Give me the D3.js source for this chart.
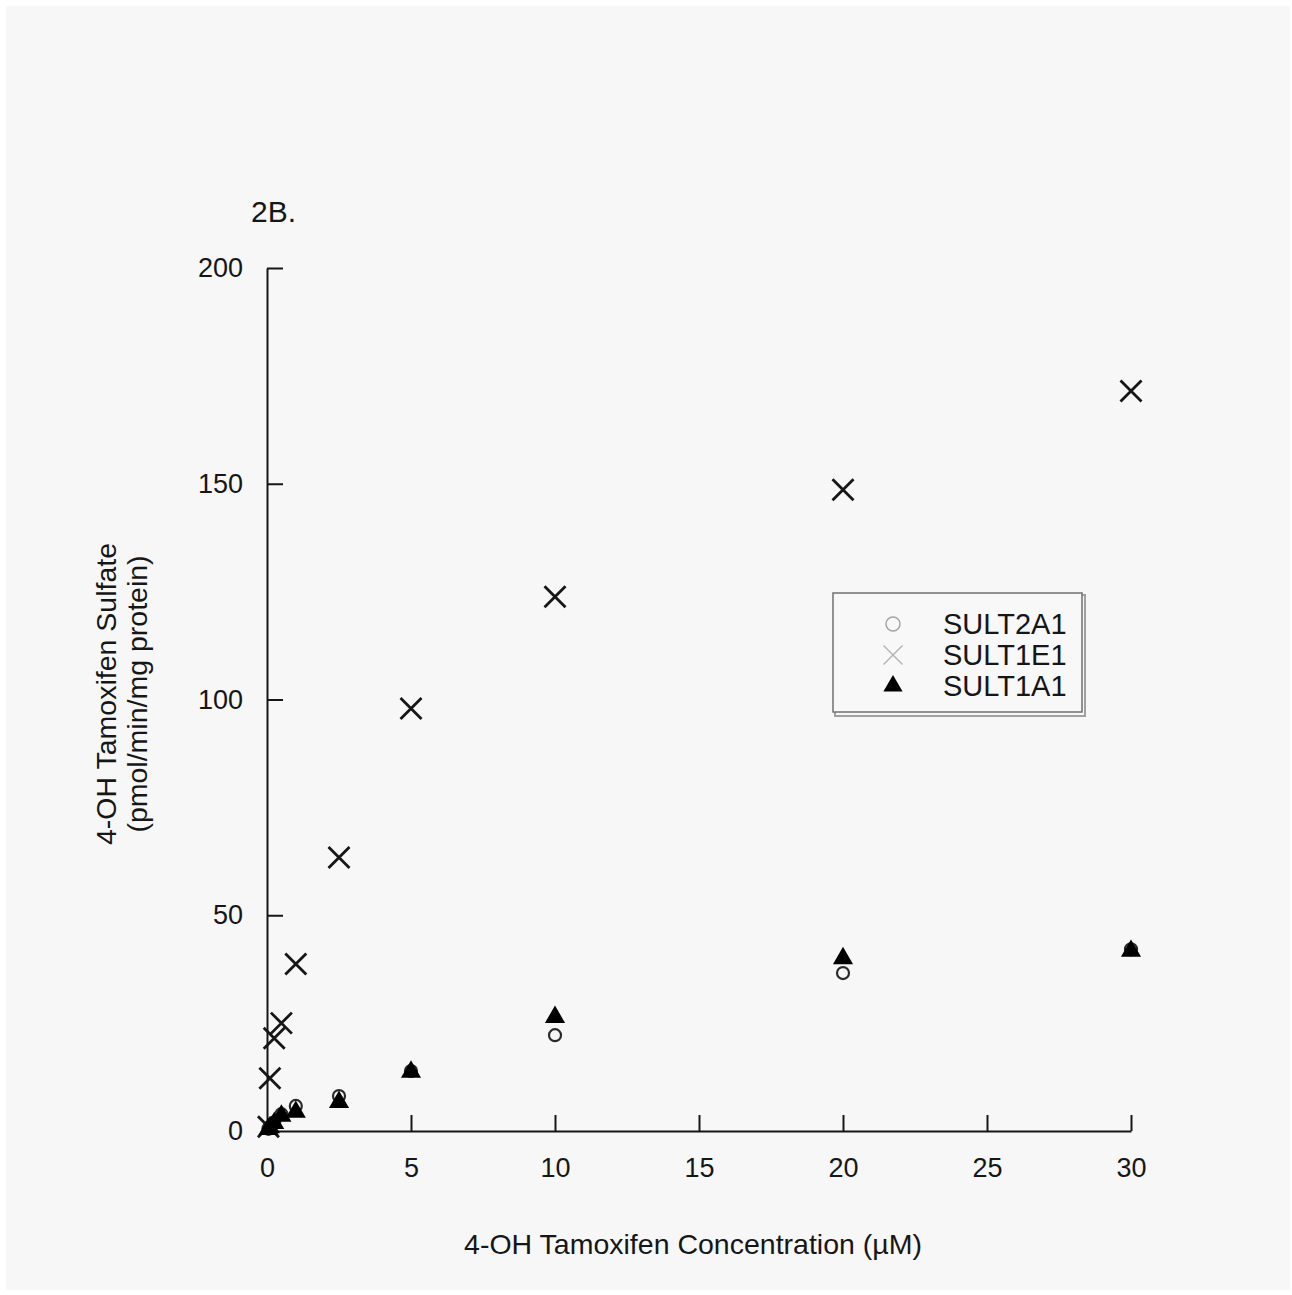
<!DOCTYPE html>
<html>
<head>
<meta charset="utf-8">
<script src="https://cdn.jsdelivr.net/npm/d3@7"></script>
<style>
  html, body { margin: 0; padding: 0; background: #ffffff; }
  svg { display: block; font-family: "Liberation Sans", Arial, sans-serif; }
</style>
</head>
<body>
<div id="chart"></div>
<script>
// concentrations (µM) and rates (pmol/min/mg protein)
const concentrations = [0.05, 0.1, 0.25, 0.5, 1, 2.5, 5, 10, 20, 30];
const sult2a1 = [0.5, 1.0, 2.0, 3.9, 5.8, 8.1, 13.9, 22.2, 36.6, 42.1];
const sult1e1 = [1.0, 12.2, 21.5, 25.0, 38.7, 63.4, 97.9, 123.8, 148.6, 171.5];
const sult1a1 = [0.4, 0.8, 1.8, 3.5, 4.4, 6.7, 13.7, 26.4, 40.0, 41.7];

const xTicks = [0, 5, 10, 15, 20, 25, 30];
const yTicks = [0, 50, 100, 150, 200];
const legendLabels = ['SULT2A1', 'SULT1E1', 'SULT1A1'];

const W = 1292, H = 1295;
const ink = '#161616';

const svg = d3.select('#chart').append('svg')
    .attr('width', W).attr('height', H);

// grey panel behind the figure
svg.append('rect')
    .attr('x', 6).attr('y', 6).attr('width', 1284).attr('height', 1284)
    .attr('fill', '#f7f7f7');

const xScale = d3.scaleLinear().domain([0, 30]).range([267, 1131]);
const yScale = d3.scaleLinear().domain([0, 200]).range([1131, 268]);

// AXES (ticks point inward)
const xAxis = svg.append('g')
    .attr('transform', `translate(0,${yScale(0)})`)
    .call(d3.axisBottom(xScale).tickValues(xTicks).tickSize(-16).tickPadding(19).tickSizeOuter(0));
const yAxis = svg.append('g')
    .attr('transform', `translate(${xScale(0)},0)`)
    .call(d3.axisLeft(yScale).tickValues(yTicks).tickSize(-16).tickPadding(24).tickSizeOuter(0));

[xAxis, yAxis].forEach(a => {
    a.select('.domain').attr('stroke', ink).attr('stroke-width', 2);
    a.selectAll('.tick line').attr('stroke', ink).attr('stroke-width', 2);
    a.selectAll('.tick text')
        .attr('fill', ink)
        .style('font-size', '27px')
        .style('font-family', '"Liberation Sans", Arial, sans-serif');
});
xAxis.selectAll('.tick text').attr('dy', '1.0em');
yAxis.select('.tick line').filter(d => d === 0).remove();
xAxis.selectAll('.tick line').filter(d => d === 0).remove();

// titles
svg.append('text')
    .attr('x', 251).attr('y', 222)
    .attr('font-size', '30px').attr('fill', ink)
    .text('2B.');

svg.append('text')
    .attr('x', (xScale(0) + xScale(30)) / 2 - 6).attr('y', 1254)
    .attr('text-anchor', 'middle')
    .attr('font-size', '28.5px').attr('fill', ink)
    .text('4-OH Tamoxifen Concentration (µM)');

const yTitle = svg.append('text')
    .attr('transform', 'translate(116,694) rotate(-90)')
    .attr('text-anchor', 'middle')
    .attr('font-size', '28.5px').attr('fill', ink);
yTitle.append('tspan').attr('x', 0).attr('y', 0).text('4-OH Tamoxifen Sulfate');
yTitle.append('tspan').attr('x', 0).attr('y', 31).text('(pmol/min/mg protein)');

// MARKERS
const crossPath = (cx, cy, s) =>
    `M${cx - s},${cy - s}L${cx + s},${cy + s}M${cx - s},${cy + s}L${cx + s},${cy - s}`;
const triangle = d3.symbol().type(d3.symbolTriangle).size(175);

const pts = (vals) => concentrations.map((c, i) => ({ x: c, y: vals[i] }));

svg.append('g').selectAll('circle')
    .data(pts(sult2a1))
    .join('circle')
    .attr('cx', d => xScale(d.x))
    .attr('cy', d => yScale(d.y))
    .attr('r', 6)
    .attr('fill', 'none')
    .attr('stroke', '#2a2a2a')
    .attr('stroke-width', 2.2);

svg.append('g').selectAll('path')
    .data(pts(sult1e1))
    .join('path')
    .attr('d', d => crossPath(xScale(d.x), yScale(d.y), 10.5))
    .attr('fill', 'none')
    .attr('stroke', ink)
    .attr('stroke-width', 2.8);

svg.append('g').selectAll('path')
    .data(pts(sult1a1))
    .join('path')
    .attr('transform', d => `translate(${xScale(d.x)},${yScale(d.y)})`)
    .attr('d', triangle)
    .attr('fill', '#000');

// LEGEND
const lg = svg.append('g').attr('transform', 'translate(833,593)');
lg.append('rect')
    .attr('x', 2).attr('y', 2).attr('width', 250).attr('height', 121)
    .attr('fill', 'none').attr('stroke', '#a0a0a0').attr('stroke-width', 2);
lg.append('rect')
    .attr('x', 0).attr('y', 0).attr('width', 249).attr('height', 119)
    .attr('fill', '#f8f8f8').attr('stroke', '#707070').attr('stroke-width', 1.5);

const rowY = [31, 62, 93];
lg.append('circle')
    .attr('cx', 60).attr('cy', rowY[0]).attr('r', 7)
    .attr('fill', 'none').attr('stroke', '#a5a5a5').attr('stroke-width', 1.5);
lg.append('path')
    .attr('d', crossPath(60, rowY[1], 9.5))
    .attr('fill', 'none').attr('stroke', '#b5b5b5').attr('stroke-width', 1.5);
lg.append('path')
    .attr('transform', `translate(60,${rowY[2]})`)
    .attr('d', d3.symbol().type(d3.symbolTriangle).size(160))
    .attr('fill', '#000');

lg.selectAll('text.lab')
    .data(legendLabels)
    .join('text')
    .attr('class', 'lab')
    .attr('x', 110)
    .attr('y', (d, i) => rowY[i] + 10)
    .attr('font-size', '29px')
    .attr('fill', ink)
    .text(d => d);
</script>
</body>
</html>
